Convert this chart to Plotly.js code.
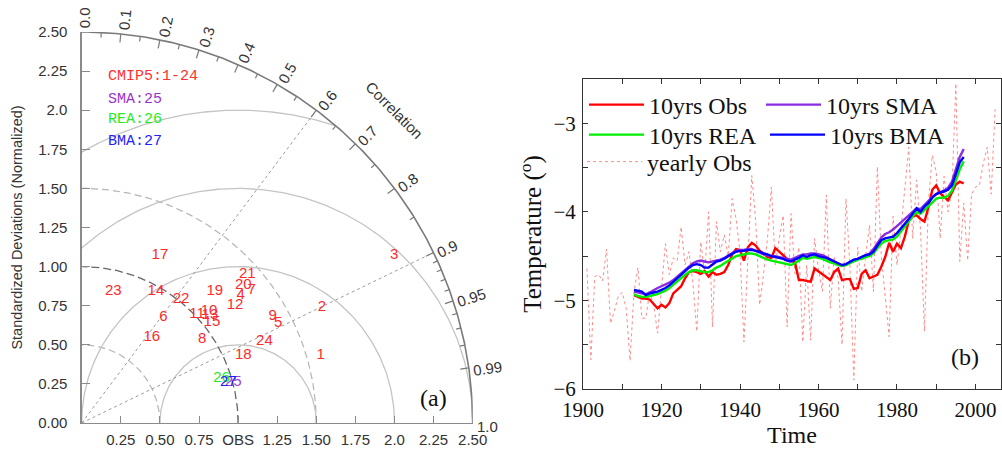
<!DOCTYPE html>
<html><head><meta charset="utf-8">
<script src="https://cdn.plot.ly/plotly-3.0.1.min.js"></script>
<style>html,body{margin:0;padding:0;background:#fff}#chart{width:1002px;height:452px}</style>
</head><body><div id="chart"></div>
<script>
// ---------- Panel (a): Taylor diagram ----------
const cmip5Ids  = ['1','2','3','4','5','6','7','8','9','10','11','12','13','14','15','16','17','18','19','20','21','22','23','24'];
const cmip5Std  = [1.589,1.704,2.268,1.305,1.409,0.854,1.377,0.940,1.400,1.084,1.014,1.236,1.072,0.965,1.054,0.708,1.185,1.121,1.196,1.358,1.425,1.016,0.864,1.281];
const cmip5Corr = [0.962,0.901,0.881,0.779,0.892,0.611,0.789,0.820,0.872,0.751,0.727,0.793,0.765,0.492,0.790,0.633,0.422,0.922,0.712,0.761,0.743,0.625,0.234,0.912];
const smaId = ['25'], smaStd = [1.004], smaCorr = [0.965];
const reaId = ['26'], reaStd = [0.940], reaCorr = [0.952];
const bmaId = ['27'], bmaStd = [0.973], bmaCorr = [0.963];

const stdTickVals  = [0,0.25,0.5,0.75,1.0,1.25,1.5,1.75,2.0,2.25,2.5];
const stdTickText  = ['0.00','0.25','0.50','0.75','1.00','1.25','1.50','1.75','2.0','2.25','2.50'];
const xTickVals    = [0.25,0.5,0.75,1.0,1.25,1.5,1.75,2.0,2.25,2.5];
const xTickText    = ['0.25','0.50','0.75','OBS','1.25','1.50','1.75','2.0','2.25','2.50'];
const corrLabels   = ['0.0','0.1','0.2','0.3','0.4','0.5','0.6','0.7','0.8','0.9','0.95','0.99','1.0'];
const corrMinor    = [0.05,0.15,0.25,0.35,0.45,0.55,0.65,0.75,0.85,0.91,0.92,0.93,0.94,0.96,0.97,0.98];
const rmsRadii     = [0.5,1.0,1.5,2.0];
const stdArcRadii  = [0.5,1.5];
const refStd = 1.0, maxStd = 2.5;
const corrRefLines = [0.6,0.9];

// ---------- Panel (b): temperature series ----------
const yearsYearly = [1901,1902,1903,1904,1905,1906,1907,1908,1909,1910,1911,1912,1913,1914,1915,1916,1917,1918,1919,1920,
1921,1922,1923,1924,1925,1926,1927,1928,1929,1930,1931,1932,1933,1934,1935,1936,1937,1938,1939,1940,
1941,1942,1943,1944,1945,1946,1947,1948,1949,1950,1951,1952,1953,1954,1955,1956,1957,1958,1959,1960,
1961,1962,1963,1964,1965,1966,1967,1968,1969,1970,1971,1972,1973,1974,1975,1976,1977,1978,1979,1980,
1981,1982,1983,1984,1985,1986,1987,1988,1989,1990,1991,1992,1993,1994,1995,1996,1997,1998,1999,2000,
2001,2002,2003,2004,2005];
const yearlyObs = [-4.64,-5.67,-4.73,-4.71,-4.78,-4.42,-5.26,-5.12,-4.95,-4.91,-5.09,-5.68,-4.90,-4.63,-5.20,-5.20,-4.90,-5.05,-5.37,-4.86,
-4.36,-4.71,-4.52,-4.55,-4.17,-4.60,-4.45,-4.80,-5.35,-4.34,-4.70,-4.00,-5.30,-4.11,-4.45,-4.26,-4.50,-3.85,-4.08,-4.45,
-5.47,-4.55,-3.59,-4.10,-5.05,-4.70,-4.30,-3.72,-4.60,-4.30,-4.04,-5.30,-4.02,-4.70,-4.40,-5.47,-4.60,-5.45,-4.30,-4.65,
-4.90,-3.81,-5.09,-4.50,-4.75,-5.50,-3.85,-4.60,-5.90,-4.40,-4.90,-4.50,-4.15,-4.90,-3.49,-4.50,-4.95,-5.41,-4.05,-4.60,
-4.20,-3.75,-3.27,-4.30,-3.64,-4.20,-5.35,-3.90,-3.36,-3.55,-4.30,-3.60,-4.00,-3.75,-2.55,-4.56,-3.90,-4.55,-3.80,-3.72,
-3.70,-3.45,-3.27,-3.80,-2.84];

const yearsRun = [1913,1914,1915,1916,1917,1918,1919,1920,1921,1922,1923,1924,1925,1926,1927,1928,1929,1930,1931,1932,
1933,1934,1935,1936,1937,1938,1939,1940,1941,1942,1943,1944,1945,1946,1947,1948,1949,1950,1951,1952,
1953,1954,1955,1956,1957,1958,1959,1960,1961,1962,1963,1964,1965,1966,1967,1968,1969,1970,1971,1972,
1973,1974,1975,1976,1977,1978,1979,1980,1981,1982,1983,1984,1985,1986,1987,1988,1989,1990,1991,1992,
1993,1994,1995,1996,1997];
const obs10 = [-4.94,-4.96,-4.98,-4.98,-4.99,-5.04,-5.09,-5.05,-5.08,-5.03,-4.92,-4.88,-4.84,-4.75,-4.68,-4.67,-4.68,-4.70,-4.67,-4.73,
-4.68,-4.71,-4.70,-4.68,-4.60,-4.48,-4.42,-4.43,-4.55,-4.40,-4.35,-4.38,-4.44,-4.47,-4.51,-4.52,-4.41,-4.45,-4.49,-4.53,
-4.55,-4.57,-4.77,-4.77,-4.78,-4.79,-4.64,-4.67,-4.70,-4.73,-4.77,-4.68,-4.64,-4.77,-4.76,-4.76,-4.87,-4.86,-4.70,-4.66,
-4.75,-4.73,-4.71,-4.62,-4.51,-4.35,-4.45,-4.36,-4.41,-4.28,-4.10,-4.05,-4.04,-4.08,-4.11,-3.95,-3.75,-3.70,-3.79,-3.83,
-3.87,-3.78,-3.69,-3.66,-3.68];
const sma10 = [-4.90,-4.91,-4.92,-4.93,-4.91,-4.88,-4.86,-4.84,-4.82,-4.80,-4.77,-4.73,-4.69,-4.65,-4.61,-4.58,-4.56,-4.55,-4.56,-4.57,
-4.56,-4.55,-4.54,-4.52,-4.49,-4.46,-4.44,-4.43,-4.43,-4.42,-4.42,-4.44,-4.46,-4.48,-4.49,-4.50,-4.50,-4.51,-4.52,-4.53,
-4.54,-4.52,-4.50,-4.48,-4.48,-4.47,-4.47,-4.48,-4.49,-4.51,-4.54,-4.57,-4.59,-4.61,-4.60,-4.57,-4.55,-4.53,-4.51,-4.49,
-4.47,-4.42,-4.35,-4.29,-4.25,-4.23,-4.20,-4.16,-4.12,-4.08,-4.04,-4.00,-3.96,-3.97,-3.92,-3.88,-3.83,-3.80,-3.78,-3.76,
-3.73,-3.66,-3.52,-3.38,-3.29];
const rea10 = [-4.93,-4.95,-4.96,-4.96,-4.95,-4.94,-4.93,-4.91,-4.89,-4.86,-4.82,-4.78,-4.74,-4.71,-4.68,-4.66,-4.66,-4.67,-4.68,-4.68,
-4.66,-4.63,-4.61,-4.58,-4.55,-4.52,-4.50,-4.49,-4.48,-4.47,-4.47,-4.48,-4.50,-4.52,-4.54,-4.55,-4.56,-4.57,-4.58,-4.59,
-4.60,-4.58,-4.55,-4.52,-4.53,-4.52,-4.51,-4.52,-4.53,-4.55,-4.57,-4.58,-4.60,-4.61,-4.60,-4.58,-4.56,-4.54,-4.53,-4.51,
-4.50,-4.47,-4.41,-4.36,-4.33,-4.32,-4.31,-4.28,-4.22,-4.16,-4.10,-4.05,-4.00,-4.02,-3.98,-3.94,-3.89,-3.85,-3.84,-3.84,
-3.82,-3.76,-3.64,-3.52,-3.43];
const bma10 = [-4.88,-4.89,-4.90,-4.94,-4.92,-4.91,-4.90,-4.88,-4.86,-4.83,-4.79,-4.74,-4.70,-4.66,-4.63,-4.60,-4.59,-4.60,-4.63,-4.63,
-4.60,-4.56,-4.55,-4.53,-4.50,-4.47,-4.45,-4.44,-4.44,-4.43,-4.43,-4.44,-4.45,-4.47,-4.48,-4.50,-4.51,-4.52,-4.53,-4.55,
-4.56,-4.54,-4.52,-4.49,-4.51,-4.49,-4.48,-4.50,-4.51,-4.52,-4.54,-4.56,-4.58,-4.60,-4.59,-4.56,-4.54,-4.53,-4.51,-4.49,
-4.48,-4.45,-4.38,-4.32,-4.30,-4.29,-4.28,-4.24,-4.19,-4.13,-4.08,-4.02,-3.96,-4.00,-3.94,-3.90,-3.84,-3.80,-3.78,-3.77,
-3.75,-3.70,-3.56,-3.44,-3.38];

// ---------- helpers ----------
const SANS = 'Liberation Sans, Arial, sans-serif';
const SERIF = 'Liberation Serif, Times New Roman, serif';
const MONO = 'Liberation Mono, Courier New, monospace';
const LBL = 15;
const toXY = (std, corr) => ({
  x: std.map((s,i)=>s*corr[i]),
  y: std.map((s,i)=>s*Math.sqrt(Math.max(0,1-corr[i]*corr[i])))
});
function arc(cx, r, a0, a1, n){
  const xs=[], ys=[];
  for(let i=0;i<=n;i++){const a=a0+(a1-a0)*i/n; xs.push(cx+r*Math.cos(a)); ys.push(r*Math.sin(a));}
  return {xs, ys};
}
const traces = [];
const base = {xaxis:'x', yaxis:'y', showlegend:false, hoverinfo:'skip', mode:'lines'};

stdArcRadii.forEach(r=>{
  const a = arc(0, r, 0, Math.PI/2, 120);
  traces.push(Object.assign({}, base, {x:a.xs, y:a.ys, line:{color:'#b4b4b4', width:1.2, dash:'7px,4px'}}));
});
rmsRadii.forEach(r=>{
  const a0 = Math.acos(Math.min(1, (maxStd*maxStd - refStd*refStd - r*r)/(2*r*refStd)));
  const a1 = Math.acos(Math.max(-1, -refStd/r));
  const a = arc(refStd, r, a0, a1, 200);
  traces.push(Object.assign({}, base, {x:a.xs, y:a.ys, line:{color:'#c4c4c4', width:1.3}}));
});
{ const a = arc(0, refStd, 0, Math.PI/2, 120);
  traces.push(Object.assign({}, base, {x:a.xs, y:a.ys, line:{color:'#666666', width:1.3, dash:'8px,4px'}})); }
corrRefLines.forEach(c=>{
  const t = Math.acos(c);
  traces.push(Object.assign({}, base, {x:[0, maxStd*Math.cos(t)], y:[0, maxStd*Math.sin(t)], line:{color:'#9a9a9a', width:1, dash:'dot'}}));
});
{ const a = arc(0, maxStd, 0, Math.PI/2, 200);
  traces.push(Object.assign({}, base, {x:a.xs, y:a.ys, line:{color:'#7a7a7a', width:1.6}})); }
{ const xs=[], ys=[];
  const majors = corrLabels.map(Number).filter(c=>c<1 && c>0);
  majors.forEach(c=>{const t=Math.acos(c); xs.push(maxStd*Math.cos(t),(maxStd-0.055)*Math.cos(t),null); ys.push(maxStd*Math.sin(t),(maxStd-0.055)*Math.sin(t),null);});
  corrMinor.forEach(c=>{const t=Math.acos(c); xs.push(maxStd*Math.cos(t),(maxStd-0.032)*Math.cos(t),null); ys.push(maxStd*Math.sin(t),(maxStd-0.032)*Math.sin(t),null);});
  traces.push(Object.assign({}, base, {x:xs, y:ys, line:{color:'#7a7a7a', width:1.2}})); }

function labelTrace(ids, std, corr, color){
  const p = toXY(std, corr);
  return {xaxis:'x', yaxis:'y', type:'scatter', mode:'text', x:p.x, y:p.y, text:ids, showlegend:false,
    textposition:'middle center', cliponaxis:false, hoverinfo:'text',
    textfont:{family:SANS, size:LBL, color:color}};
}
traces.push(labelTrace(cmip5Ids, cmip5Std, cmip5Corr, '#ff2a2a'));
traces.push(labelTrace(smaId, smaStd, smaCorr, '#a040e0'));
traces.push(labelTrace(reaId, reaStd, reaCorr, '#22ee22'));
traces.push(labelTrace(bmaId, bmaStd, bmaCorr, '#2020ff'));

// ---------- panel (b) traces (one legend box per entry) ----------
traces.push({xaxis:'x2', yaxis:'y2', type:'scatter', mode:'lines', x:yearsYearly, y:yearlyObs, name:'yearly Obs',
  legend:'legend5', line:{color:'#ff8a8a', width:1, dash:'dot'}});
traces.push({xaxis:'x2', yaxis:'y2', type:'scatter', mode:'lines', x:yearsRun, y:obs10, name:'10yrs Obs',
  legend:'legend', line:{color:'#ff0000', width:2.4}});
traces.push({xaxis:'x2', yaxis:'y2', type:'scatter', mode:'lines', x:yearsRun, y:sma10, name:'10yrs SMA',
  legend:'legend2', line:{color:'#8a2be2', width:2.4}});
traces.push({xaxis:'x2', yaxis:'y2', type:'scatter', mode:'lines', x:yearsRun, y:rea10, name:'10yrs REA',
  legend:'legend3', line:{color:'#00ee00', width:2.4}});
traces.push({xaxis:'x2', yaxis:'y2', type:'scatter', mode:'lines', x:yearsRun, y:bma10, name:'10yrs BMA',
  legend:'legend4', line:{color:'#0000ff', width:2.4}});

// ---------- annotations ----------
const ann = [];
corrLabels.forEach(lbl=>{
  const c = Number(lbl), t = Math.acos(c);
  const digits = lbl.replace('.','').length, dots = lbl.length - digits;
  const half = (digits*0.556*LBL + dots*0.278*LBL)/2;
  const d = half + 4, tg = 3;
  ann.push({xref:'x', yref:'y', x:maxStd*Math.cos(t), y:maxStd*Math.sin(t), text:lbl, showarrow:false,
    xanchor:'center', yanchor:'middle', textangle:-t*180/Math.PI,
    xshift: Math.cos(t)*d + Math.sin(t)*tg, yshift: Math.sin(t)*d - Math.cos(t)*tg,
    font:{family:SANS, size:LBL, color:'#333'}});
});
ann.push({xref:'x', yref:'y', x:2.003, y:2.001, text:'Correlation', showarrow:false, textangle:45,
  xanchor:'center', yanchor:'middle', font:{family:SANS, size:15, color:'#333'}});
const legA = [['CMIP5:1-24','#ff3030',76.7],['SMA:25','#9933cc',99],['REA:26','#22ee22',120],['BMA:27','#2222ff',141.5]];
legA.forEach(([t,c,py])=>ann.push({xref:'paper', yref:'paper', x:106/1002, y:1-py/452, xanchor:'left', yanchor:'middle',
  text:t, showarrow:false, font:{family:MONO, size:15, color:c}}));
ann.push({xref:'paper', yref:'paper', x:433/1002, y:1-398/452, text:'(a)', showarrow:false, xanchor:'center', yanchor:'middle',
  font:{family:SERIF, size:24, color:'#111'}});
ann.push({xref:'paper', yref:'paper', x:965/1002, y:1-357/452, text:'(b)', showarrow:false, xanchor:'center', yanchor:'middle',
  font:{family:SERIF, size:24, color:'#111'}});

const legendBox = (px, py) => ({x:px/1002, y:1-py/452, xanchor:'left', yanchor:'middle', bgcolor:'rgba(0,0,0,0)',
  borderwidth:0, itemwidth:55, font:{family:SERIF, size:24, color:'#111'}});

const layout = {
  width:1002, height:452, margin:{l:0,r:0,t:0,b:0},
  paper_bgcolor:'#fff', plot_bgcolor:'rgba(0,0,0,0)',
  font:{family:SANS, color:'#333'},
  xaxis:{domain:[81.7/1002, 472.7/1002], range:[0,maxStd], anchor:'y', showgrid:false, zeroline:false,
    showline:true, linecolor:'#8a8a8a', linewidth:1.3, ticks:'inside', ticklen:7, tickcolor:'#8a8a8a',
    tickvals:xTickVals, ticktext:xTickText, tickfont:{family:SANS, size:LBL, color:'#333'}, ticklabelstandoff:3, fixedrange:true},
  yaxis:{domain:[(452-423)/452, (452-32)/452], range:[0,maxStd], anchor:'x', showgrid:false, zeroline:false,
    showline:true, linecolor:'#8a8a8a', linewidth:1.3, ticks:'inside', ticklen:8, tickcolor:'#8a8a8a',
    tickvals:stdTickVals, ticktext:stdTickText, tickfont:{family:SANS, size:LBL, color:'#333'}, ticklabelstandoff:10,
    title:{text:'Standardized Deviations (Normalized)', font:{family:SANS, size:14.5, color:'#333'}, standoff:12}, fixedrange:true},
  xaxis2:{domain:[583/1002, 1001/1002], range:[1900,2006.5], anchor:'y2', showgrid:false, zeroline:false,
    showline:true, mirror:'ticks', linecolor:'#333', linewidth:1, ticks:'inside', ticklen:5, tickcolor:'#333',
    tick0:1900, dtick:20, minor:{dtick:10, ticks:'inside', ticklen:5, tickcolor:'#333'},
    tickfont:{family:SERIF, size:21, color:'#111'}, ticklabelstandoff:2,
    title:{text:'Time', font:{family:SERIF, size:24, color:'#111'}, standoff:2}},
  yaxis2:{domain:[(452-389)/452, (452-79)/452], range:[-6,-2.5], anchor:'x2', showgrid:false, zeroline:false,
    showline:true, mirror:'ticks', linecolor:'#333', linewidth:1, ticks:'inside', ticklen:5, tickcolor:'#333',
    tick0:-6, dtick:1, minor:{dtick:0.5, ticks:'inside', ticklen:5, tickcolor:'#333'},
    tickfont:{family:SERIF, size:21, color:'#111'}, ticklabelstandoff:2,
    title:{text:'Temperature (<sup>o</sup>)', font:{family:SERIF, size:25, color:'#111'}, standoff:4}},
  legend:  legendBox(584, 105),
  legend2: legendBox(761, 105),
  legend3: legendBox(584, 135),
  legend4: legendBox(765, 135),
  legend5: legendBox(582, 162),
  annotations:ann,
  showlegend:true
};
Plotly.newPlot('chart', traces, layout, {displayModeBar:false, staticPlot:true});
</script></body></html>
